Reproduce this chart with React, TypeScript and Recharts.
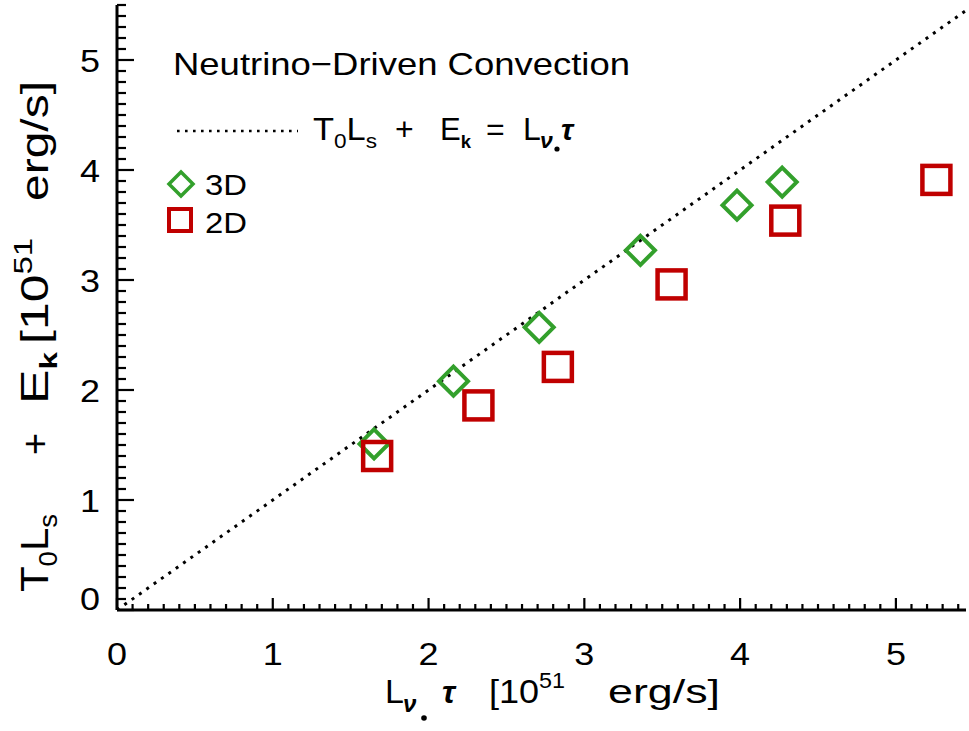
import React from 'react';
import { ScatterChart, Scatter, XAxis, YAxis } from 'recharts';

// ---- data ----
const x3D = [1.65, 2.16, 2.71, 3.36, 3.98, 4.27];
const y3D = [1.51, 2.08, 2.57, 3.27, 3.68, 3.89];
const x2D = [1.67, 2.32, 2.83, 3.56, 4.29, 5.26];
const y2D = [1.40, 1.86, 2.21, 2.96, 3.54, 3.91];
const diagX = [0, 5.45];
const xMajorTicks = [0, 1, 2, 3, 4, 5];
const yMajorTicks = [0, 1, 2, 3, 4, 5];
const X_DOMAIN: [number, number] = [0, 5.45];
const Y_DOMAIN: [number, number] = [0, 5.5];

const data3D = x3D.map((x, i) => ({ x, y: y3D[i] }));
const data2D = x2D.map((x, i) => ({ x, y: y2D[i] }));
const diagData = diagX.map((x) => ({ x, y: x }));

// minor ticks every 0.1 (axis decoration)
const xTicksAll: number[] = [];
for (let i = 0; i <= 54; i++) xTicksAll.push(i / 10);
const yTicksAll: number[] = [];
for (let i = 0; i <= 55; i++) yTicksAll.push(i / 10);

const GREEN = '#33a02c';
const RED = '#c00000';
const FONT = '"Liberation Sans", Arial, sans-serif';

const isMajor = (v: number, majors: number[]) => majors.some((m) => Math.abs(m - v) < 1e-6);

const BottomTick = (props: any) => {
  const { x, y, payload } = props;
  const v = payload.value;
  const major = isMajor(v, xMajorTicks);
  return (
    <g>
      <line x1={x} x2={x} y1={y} y2={y - (major ? 12 : 6)} stroke="#000" strokeWidth={2.2} />
      {major && (
        <text x={x - 10} y={y + 55} fontSize={32} fontFamily={FONT} fill="#000" textLength={20} lengthAdjust="spacingAndGlyphs">
          {Math.round(v)}
        </text>
      )}
    </g>
  );
};

const TopTick = (props: any) => {
  const { x, y, payload } = props;
  const major = isMajor(payload.value, xMajorTicks);
  return <line x1={x} x2={x} y1={y} y2={y + (major ? 12 : 6)} stroke="#000" strokeWidth={2.2} />;
};

const LeftTick = (props: any) => {
  const { x, y, payload } = props;
  const v = payload.value;
  const major = isMajor(v, yMajorTicks);
  return (
    <g>
      <line x1={x} x2={x + (major ? 17 : 9)} y1={y} y2={y} stroke="#000" strokeWidth={2.2} />
      {major && (
        <text x={x - 37} y={v === 0 ? y : y + 12} fontSize={32} fontFamily={FONT} fill="#000" textLength={20} lengthAdjust="spacingAndGlyphs">
          {Math.round(v)}
        </text>
      )}
    </g>
  );
};

const RightTick = (props: any) => {
  const { x, y, payload } = props;
  const major = isMajor(payload.value, yMajorTicks);
  return <line x1={x} x2={x - (major ? 17 : 9)} y1={y} y2={y} stroke="#000" strokeWidth={2.2} />;
};

const Diamond = (props: any) => {
  const { cx, cy } = props;
  const r = 14.5;
  return (
    <polygon
      points={`${cx},${cy - r} ${cx + r},${cy} ${cx},${cy + r} ${cx - r},${cy}`}
      fill="none"
      stroke={GREEN}
      strokeWidth={4}
    />
  );
};

const Square = (props: any) => {
  const { cx, cy } = props;
  const h = 14;
  return <rect x={cx - h} y={cy - h} width={2 * h} height={2 * h} fill="none" stroke={RED} strokeWidth={4.5} />;
};

const Nothing = () => <g />;

const axisLine = { stroke: '#000', strokeWidth: 3 };
const SG = 'spacingAndGlyphs';

export default function App() {
  return (
    <div style={{ position: 'absolute', left: 0, top: 0, width: 969, height: 731, background: '#fff' }}>
      <ScatterChart width={969} height={731} margin={{ top: 5, right: 3, bottom: 0, left: 0 }}>
        <XAxis
          xAxisId="b"
          orientation="bottom"
          type="number"
          dataKey="x"
          domain={X_DOMAIN}
          allowDataOverflow
          ticks={xTicksAll}
          interval={0}
          height={121}
          tickSize={0}
          tickMargin={0}
          tickLine={false}
          axisLine={axisLine}
          tick={<BottomTick />}
        />
        <XAxis
          xAxisId="t"
          orientation="top"
          type="number"
          dataKey="x"
          domain={X_DOMAIN}
          allowDataOverflow
          ticks={xTicksAll}
          interval={0}
          height={0}
          tickSize={0}
          tickMargin={0}
          tickLine={false}
          axisLine={axisLine}
          tick={<TopTick />}
        />
        <YAxis
          yAxisId="l"
          orientation="left"
          type="number"
          dataKey="y"
          domain={Y_DOMAIN}
          allowDataOverflow
          ticks={yTicksAll}
          interval={0}
          width={117}
          tickSize={0}
          tickMargin={0}
          tickLine={false}
          axisLine={axisLine}
          tick={<LeftTick />}
        />
        <YAxis
          yAxisId="r"
          orientation="right"
          type="number"
          dataKey="y"
          domain={Y_DOMAIN}
          allowDataOverflow
          ticks={yTicksAll}
          interval={0}
          width={0}
          tickSize={0}
          tickMargin={0}
          tickLine={false}
          axisLine={axisLine}
          tick={<RightTick />}
        />
        <Scatter
          name="diag"
          data={diagData}
          xAxisId="t"
          yAxisId="r"
          line={{ stroke: '#000', strokeWidth: 3, strokeDasharray: '3 6' }}
          lineType="joint"
          shape={<Nothing />}
          isAnimationActive={false}
        />
        <Scatter name="3D" data={data3D} xAxisId="b" yAxisId="l" shape={<Diamond />} isAnimationActive={false} />
        <Scatter name="2D" data={data2D} xAxisId="b" yAxisId="l" shape={<Square />} isAnimationActive={false} />
      </ScatterChart>

      <svg
        width={969}
        height={731}
        style={{ position: 'absolute', left: 0, top: 0, pointerEvents: 'none' }}
        fontFamily={FONT}
        fill="#000"
      >
        {/* title */}
        <text x={173} y={75} fontSize={32} textLength={457} lengthAdjust={SG}>
          Neutrino−Driven Convection
        </text>

        {/* dotted legend line + formula */}
        <line x1={177} x2={298} y1={131} y2={131} stroke="#000" strokeWidth={2.6} strokeDasharray="2.6 5.4" />
        <text x={313} y={140} fontSize={32} textLength={64} lengthAdjust={SG}>
          T<tspan fontSize={21} dy={8}>0</tspan>
          <tspan dy={-8}>L</tspan>
          <tspan fontSize={21} dy={8}>s</tspan>
        </text>
        <text x={395} y={140} fontSize={32}>+</text>
        <text x={440} y={140} fontSize={32} textLength={31} lengthAdjust={SG}>
          E<tspan fontSize={19} dy={8} fontWeight="bold">k</tspan>
        </text>
        <text x={486} y={140} fontSize={32}>=</text>
        <text x={523} y={140} fontSize={32}>L</text>
        <text x={540} y={148} fontSize={23} fontWeight="bold" fontStyle="italic">ν</text>
        <circle cx={557} cy={149} r={2.6} fill="#000" />
        <text x={561} y={140} fontSize={30} fontWeight="bold" fontStyle="italic">τ</text>

        {/* marker legend */}
        <polygon points="181,172 193,184 181,196 169,184" fill="none" stroke={GREEN} strokeWidth={3.5} />
        <text x={205} y={195} fontSize={30} textLength={42} lengthAdjust={SG}>3D</text>
        <rect x={169} y={209} width={22} height={22} fill="none" stroke={RED} strokeWidth={4} />
        <text x={205} y={233} fontSize={30} textLength={42} lengthAdjust={SG}>2D</text>

        {/* x axis label */}
        <text x={385} y={703} fontSize={34}>L</text>
        <text x={403} y={712} fontSize={24} fontWeight="bold" fontStyle="italic">ν</text>
        <circle cx={424} cy={718} r={2.8} fill="#000" />
        <text x={442} y={703} fontSize={32} fontWeight="bold" fontStyle="italic">τ</text>
        <text x={489} y={703} fontSize={34} textLength={76} lengthAdjust={SG}>
          [10<tspan fontSize={22} dy={-15}>51</tspan>
        </text>
        <text x={608} y={703} fontSize={34} textLength={112} lengthAdjust={SG}>
          erg/s]
        </text>

        {/* y axis label */}
        <g transform="translate(48,0) rotate(-90)">
          <text x={-592} y={0} fontSize={38} textLength={78} lengthAdjust={SG}>
            T<tspan fontSize={25} dy={9}>0</tspan>
            <tspan dy={-9}>L</tspan>
            <tspan fontSize={25} dy={9}>s</tspan>
          </text>
          <text x={-455} y={0} fontSize={38}>+</text>
          <text x={-404} y={0} fontSize={38} textLength={52} lengthAdjust={SG}>
            E<tspan fontSize={23} dy={9} fontWeight="bold">k</tspan>
          </text>
          <text x={-344} y={0} fontSize={38} textLength={106} lengthAdjust={SG}>
            [10<tspan fontSize={25} dy={-16}>51</tspan>
          </text>
          <text x={-201} y={0} fontSize={38} textLength={120} lengthAdjust={SG}>
            erg/s]
          </text>
        </g>
      </svg>
    </div>
  );
}
